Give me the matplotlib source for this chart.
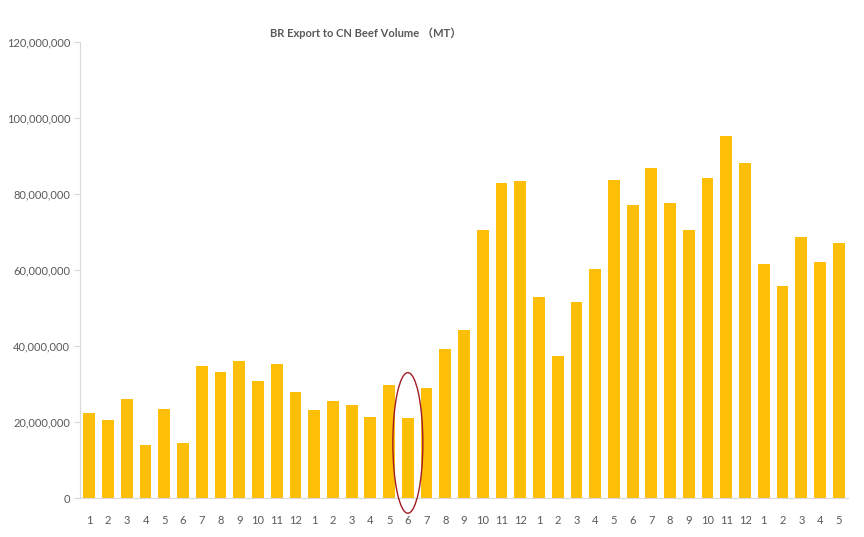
import matplotlib
matplotlib.use('Agg')
import matplotlib.pyplot as plt
from matplotlib.patches import Ellipse
from matplotlib.ticker import FuncFormatter

# 月份标签（3年 + 5个月）
months = [1, 2, 3, 4, 5, 6, 7, 8, 9, 10, 11, 12,
          1, 2, 3, 4, 5, 6, 7, 8, 9, 10, 11, 12,
          1, 2, 3, 4, 5, 6, 7, 8, 9, 10, 11, 12,
          1, 2, 3, 4, 5]

# 出口量 (MT)
volumes = [22.5e6, 20.5e6, 26.0e6, 14.0e6, 23.4e6, 14.6e6, 34.8e6, 33.2e6, 36.1e6, 30.8e6, 35.3e6, 27.8e6,
           23.2e6, 25.5e6, 24.6e6, 21.3e6, 29.7e6, 21.0e6, 29.0e6, 39.3e6, 44.2e6, 70.5e6, 82.8e6, 83.4e6,
           52.8e6, 37.4e6, 51.5e6, 60.4e6, 83.7e6, 77.0e6, 86.8e6, 77.7e6, 70.5e6, 84.1e6, 95.3e6, 88.3e6,
           61.5e6, 55.9e6, 68.6e6, 62.2e6, 67.0e6]

highlight_idx = 17  # 被圈出的月份

title = 'BR Export to CN Beef Volume （MT）'

plt.rcParams['font.family'] = ['Lato', 'Noto Sans CJK SC']

fig = plt.figure(figsize=(8.64, 5.37), dpi=100)
ax = fig.add_axes([0.0926, 0.0726, 0.889, 0.849])

x = range(len(volumes))
ax.bar(x, volumes, width=0.63, color='#FDBF08', zorder=2)

ax.set_xlim(-0.5, len(volumes) - 0.5)
ax.set_ylim(0, 120e6)
ax.set_yticks(range(0, 120000001, 20000000))
ax.yaxis.set_major_formatter(FuncFormatter(lambda v, p: f'{int(v):,}'))
ax.set_xticks(list(x))
ax.set_xticklabels([str(m) for m in months])

ax.tick_params(axis='y', length=4, color='#d9d9d9', labelsize=8, labelcolor='#595959', pad=3)
ax.tick_params(axis='x', length=0, labelsize=8, labelcolor='#595959', pad=12)

for side in ['top', 'right']:
    ax.spines[side].set_visible(False)
ax.spines['left'].set_color('#d9d9d9')
ax.spines['bottom'].set_color('#d9d9d9')

# 红色椭圆标记
ell = Ellipse((highlight_idx, 14.5e6), width=1.6, height=37e6,
              fill=False, edgecolor='#a01c24', linewidth=1.0, zorder=3, clip_on=False)
ax.add_patch(ell)

fig.text(0.423, 0.938, title, ha='center', va='center', fontsize=8,
         fontweight='bold', color='#595959')

fig.savefig('out.png', dpi=100, facecolor='white')
plt.close(fig)
